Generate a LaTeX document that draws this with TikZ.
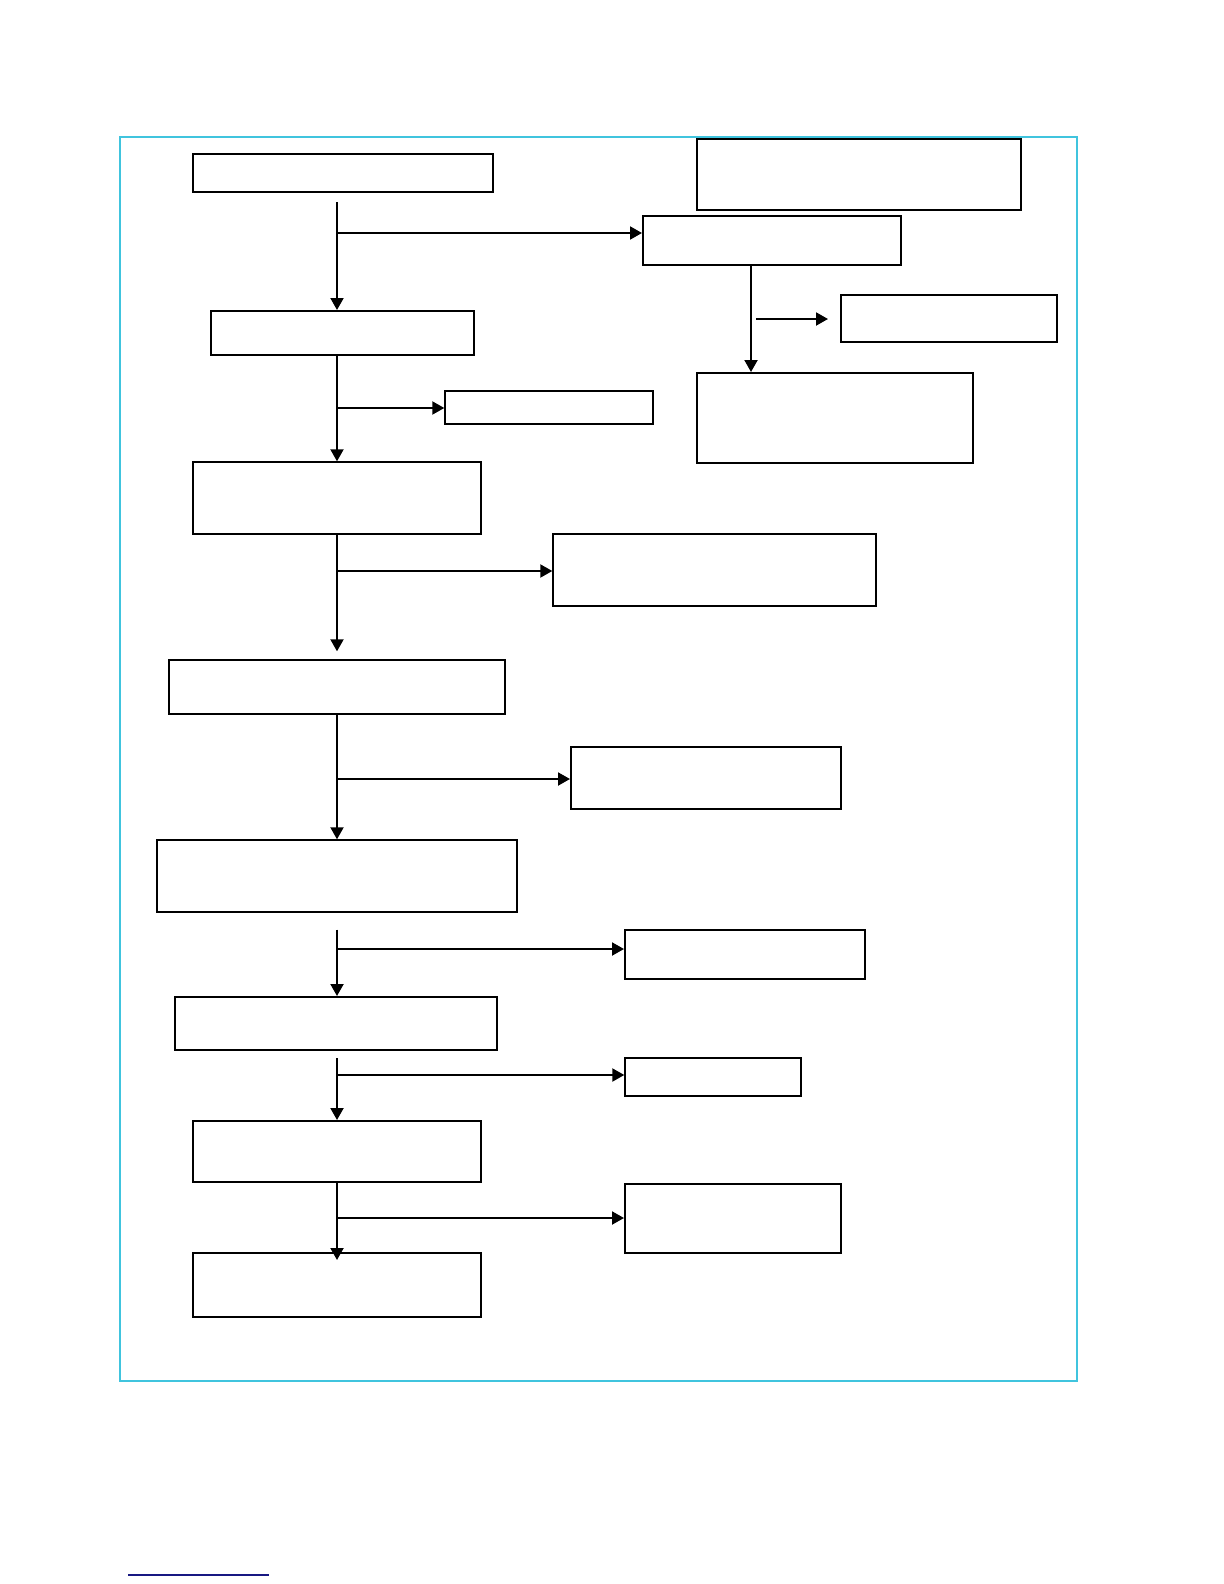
\documentclass[tikz,border=0pt]{standalone}
\usepackage{xcolor}
\usepackage{tikz}
\usetikzlibrary{arrows.meta, fit}

\definecolor{framecyan}{RGB}{64,196,222}
\definecolor{rulenavy}{RGB}{24,24,130}

\begin{document}
\begin{tikzpicture}[
  x=0.5pt, y=-0.5pt,
  box/.style={draw, line width=1pt, inner sep=0pt},
  thinbox/.style={box, line width=0.7pt},
  arr/.style={-{Triangle[length=6pt, width=6.5pt]}, line width=1pt}
]
\useasboundingbox (0,0) rectangle (1224,1584);
\draw[framecyan, line width=1.2pt] (120,137) rectangle (1077,1381);

% main column
\node[box, fit={(193,154) (493,192)}] (st1) {};
\node[box, fit={(211,311) (474,355)}] (st2) {};
\node[thinbox, fit={(193,462) (481,534)}] (st3) {};
\node[thinbox, fit={(169,660) (505,714)}] (st4) {};
\node[thinbox, fit={(157,840) (517,912)}] (st5) {};
\node[box, fit={(175,997) (497,1050)}] (st6) {};
\node[box, fit={(193,1121) (481,1182)}] (st7) {};
\node[box, fit={(193,1253) (481,1317)}] (st8) {};

% side boxes
\node[box, fit={(697,139) (1021,210)}] (note) {};
\node[box, fit={(643,216) (901,265)}] (sd1) {};
\node[box, fit={(841,295) (1057,342)}] (sd2) {};
\node[box, fit={(697,373) (973,463)}] (sd3) {};
\node[thinbox, fit={(445,391) (653,424)}] (out2) {};
\node[thinbox, fit={(553,534) (876,606)}] (out3) {};
\node[box, fit={(571,747) (841,809)}] (out4) {};
\node[box, fit={(625,930) (865,979)}] (out5) {};
\node[thinbox, fit={(625,1058) (801,1096)}] (out6) {};
\node[box, fit={(625,1184) (841,1253)}] (out7) {};

% branch points
\coordinate (j1) at (337,233);
\coordinate (j2) at (337,408);
\coordinate (j3) at (337,571);
\coordinate (j4) at (337,779);
\coordinate (j5) at (337,949);
\coordinate (j6) at (337,1075);
\coordinate (j7) at (337,1218);
\coordinate (jr) at (751,319);

% trunk
\draw[arr, shorten <=4.5pt] (st1.south -| st3) -- (st2.north -| st3);
\draw[arr] (st2.south -| st3) -- (st3.north);
\draw[arr, shorten >=4pt] (st3.south) -- (st4.north -| st3);
\draw[arr] (st4.south -| st3) -- (st5.north -| st3);
\draw[arr, shorten <=8.5pt] (st5.south -| st3) -- (st6.north -| st3);
\draw[arr, shorten <=3.5pt] (st6.south -| st3) -- (st7.north -| st3);
\draw[arr, shorten >=-4pt] (st7.south -| st3) -- (st8.north -| st3);

% branches
\draw[arr] (j1) -- (j1 -| sd1.west);
\draw[arr] (j2) -- (j2 -| out2.west);
\draw[arr] (j3) -- (j3 -| out3.west);
\draw[arr] (j4) -- (j4 -| out4.west);
\draw[arr] (j5) -- (j5 -| out5.west);
\draw[arr] (j6) -- (j6 -| out6.west);
\draw[arr] (j7) -- (j7 -| out7.west);

% right column
\draw[arr] (sd1.south -| jr) -- (sd3.north -| jr);
\draw[arr, shorten <=2.5pt, shorten >=6pt] (jr) -- (jr -| sd2.west);

\draw[rulenavy, line width=0.8pt] (128,1575) -- (269,1575);

\end{tikzpicture}
\end{document}
